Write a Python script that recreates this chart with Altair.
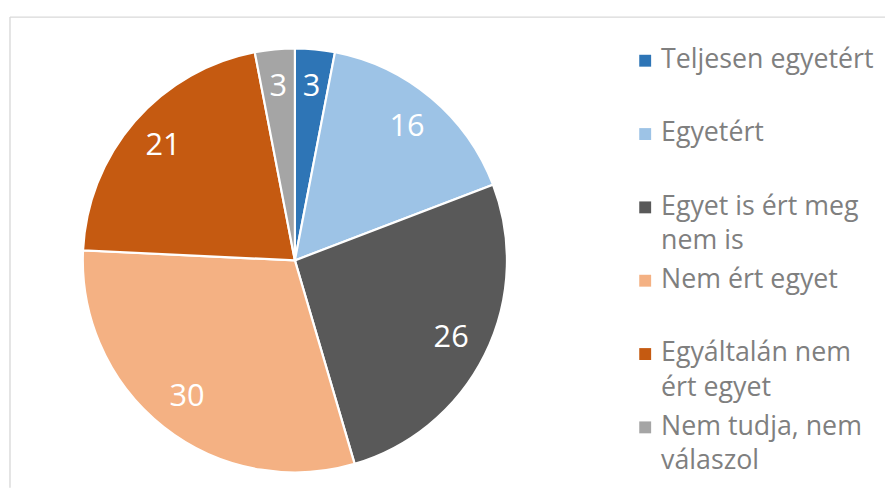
import altair as alt
import pandas as pd

categories = ["Teljesen egyetért", "Egyetért", "Egyet is ért meg nem is",
              "Nem ért egyet", "Egyáltalán nem ért egyet", "Nem tudja, nem válaszol"]
legend_labels = ["Teljesen egyetért", "Egyetért", "Egyet is ért meg\nnem is",
                 "Nem ért egyet", "Egyáltalán nem\nért egyet", "Nem tudja, nem\nválaszol"]
values = [3, 16, 26, 30, 21, 3]
colors = ["#2E75B6", "#9DC3E6", "#595959", "#F4B183", "#C55A11", "#A5A5A5"]

df = pd.DataFrame({
    "category": categories,
    "value": values,
    "idx": list(range(len(categories))),
    "legend_label": legend_labels,
})

FONT = "Open Sans"
CX, CY, R = 289.5, 252.5, 214

color = alt.Color("category:N", scale=alt.Scale(domain=categories, range=colors), legend=None)
order = alt.Order("idx:Q", sort="ascending")
theta = alt.Theta("value:Q", stack=True)

base = alt.Chart(df)

pie = base.mark_arc(outerRadius=R, stroke="white", strokeWidth=2.2).encode(
    theta=theta, color=color, order=order,
    x=alt.value(CX), y=alt.value(CY),
)

labels = base.mark_text(radius=176, font=FONT, fontSize=31, fill="white",
                        align="center", baseline="middle").encode(
    theta=theta, order=order, detail="category:N",
    text="value:Q",
    x=alt.value(CX), y=alt.value(CY),
)

ypos = alt.Y("idx:Q", scale=alt.Scale(domain=[0, 5], range=[51, 421]), axis=None)

leg_sym = base.mark_square(size=144, opacity=1).encode(
    x=alt.value(643), y=ypos, color=color,
)

leg_txt = base.mark_text(align="left", baseline="alphabetic", dy=7.5, lineBreak="\n",
                         lineHeight=34.5, font=FONT, fontSize=27, color="#7F7F7F").encode(
    x=alt.value(659), y=ypos, text="legend_label:N",
)

one = alt.Chart(pd.DataFrame({"a": [0]}))
top_rule = one.mark_rule(color="#D9D9D9", strokeWidth=1.4).encode(
    x=alt.value(2), x2=alt.value(885), y=alt.value(7))
left_rule = one.mark_rule(color="#D9D9D9", strokeWidth=1.4).encode(
    x=alt.value(2), y=alt.value(7), y2=alt.value(482))

chart = alt.layer(top_rule, left_rule, pie, labels, leg_sym, leg_txt).properties(
    width=885, height=482,
    autosize=alt.AutoSizeParams(type="none"),
    padding=0,
).configure_view(stroke=None)

chart.save("out.html", embed_options={"renderer": "svg", "actions": False})
